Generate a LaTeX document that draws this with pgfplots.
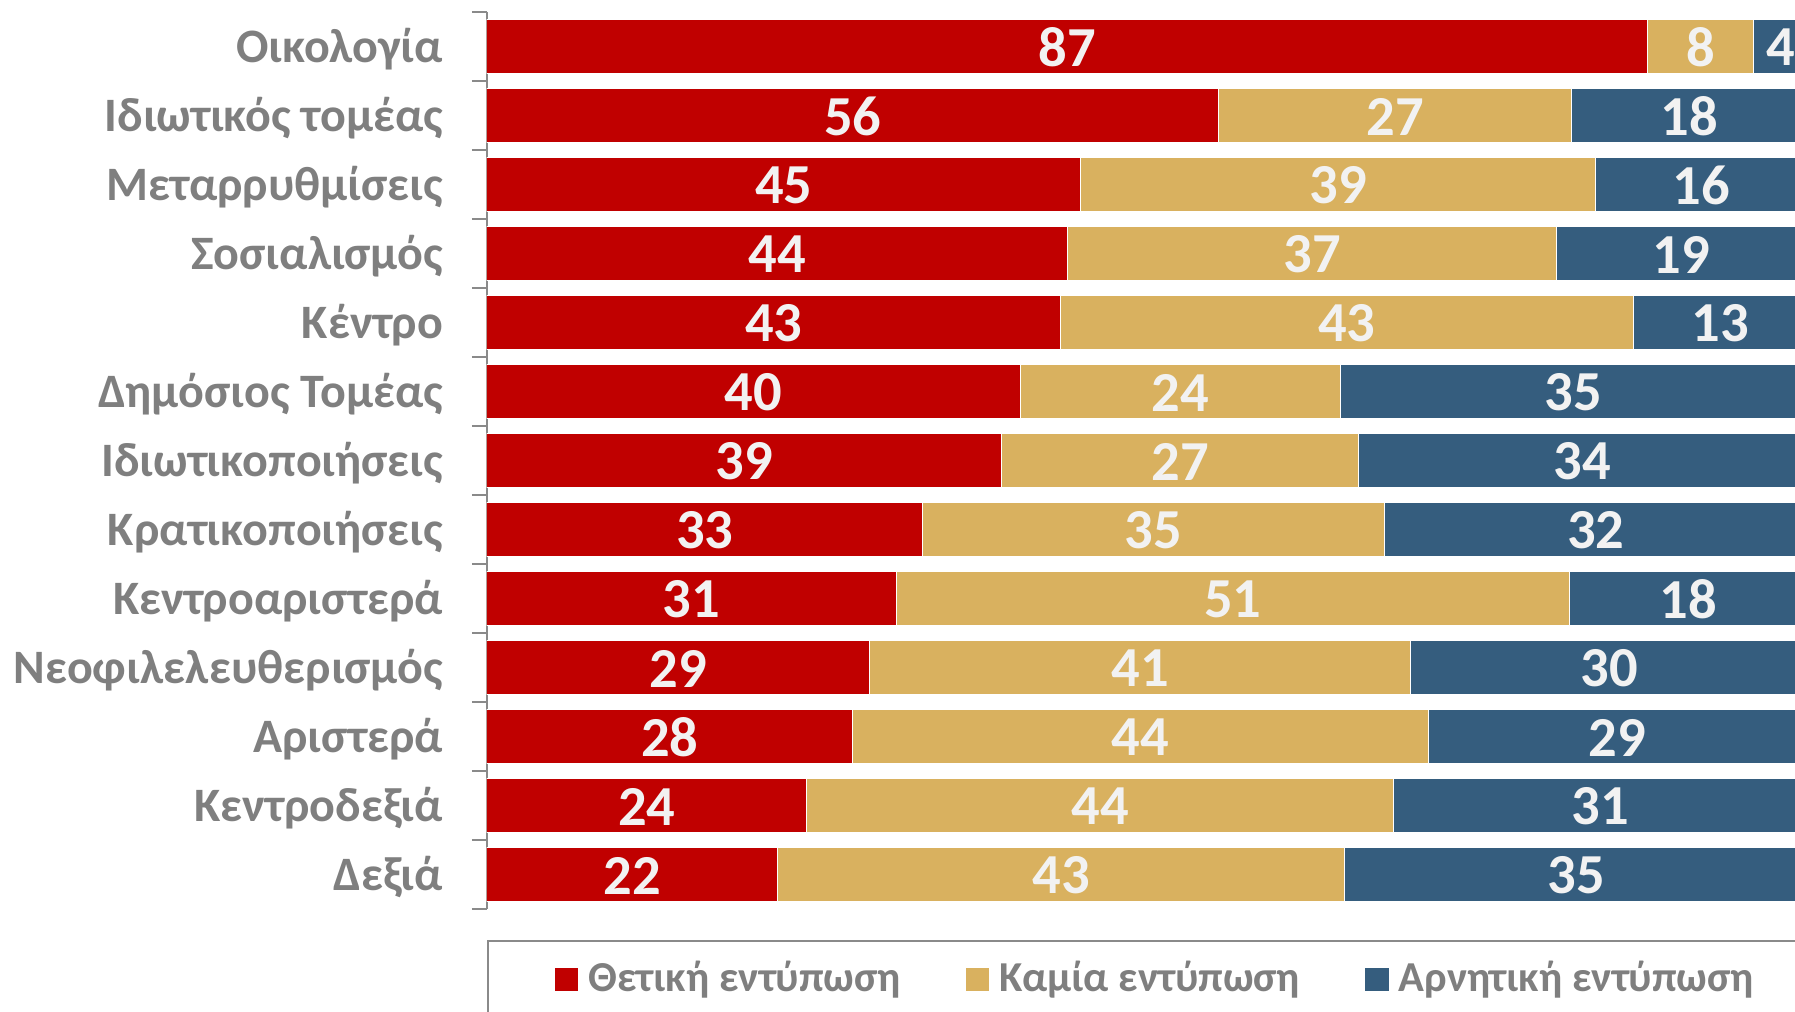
\documentclass[border=0pt]{standalone}
\usepackage{fontspec}
\setmainfont{Carlito}
\usepackage{pgfplots}
\usepackage{pgfplotstable}
\pgfplotsset{compat=1.18}
\definecolor{cred}{HTML}{C00000}
\definecolor{ctan}{HTML}{D9B15F}
\definecolor{cblue}{HTML}{355D7E}
\definecolor{cgray}{HTML}{7F7F7F}
\definecolor{cline}{HTML}{8A8A8A}
\definecolor{clbl}{HTML}{F2F2F2}
% r = red end, c = red+tan end, e = bar end (shares normalised to 100)
\pgfplotstableread{
idx r c e rl tl bl rm tm bm
0 87.88 95.96 100 87 8 4 43.94 91.92 97.98
1 55.45 82.18 100 56 27 18 27.72 68.81 91.09
2 45 84 100 45 39 16 22.5 64.5 92
3 44 81 100 44 37 19 22 62.5 90.5
4 43.43 86.87 100 43 43 13 21.72 65.15 93.43
5 40.40 64.65 100 40 24 35 20.20 52.53 82.32
6 39 66 100 39 27 34 19.5 52.5 83
7 33 68 100 33 35 32 16.5 50.5 84
8 31 82 100 31 51 18 15.5 56.5 91
9 29 70 100 29 41 30 14.5 49.5 85
10 27.72 71.29 100 28 44 29 13.86 49.50 85.64
11 24.24 68.69 100 24 44 31 12.12 46.46 84.34
12 22 65 100 22 43 35 11 43.5 82.5
}\data
\begin{document}
\begin{tikzpicture}
\begin{axis}[
  scale only axis, width=264pt, height=179.4pt,
  xmin=0, xmax=100, ymin=-0.5, ymax=12.5, y dir=reverse,
  axis x line=none, axis y line=left, axis line style={-, draw=cline, line width=0.4pt},
  xtick=\empty,
  ytick={0,...,12},
  yticklabels={Οικολογία, Ιδιωτικός τομέας, Μεταρρυθμίσεις, Σοσιαλισμός, Κέντρο, Δημόσιος Τομέας, Ιδιωτικοποιήσεις, Κρατικοποιήσεις, Κεντροαριστερά, Νεοφιλελευθερισμός, Αριστερά, Κεντροδεξιά, Δεξιά},
  minor ytick={-0.5,0.5,...,12.5},
  major tick length=0pt, minor tick length=3pt, tick align=outside,
  minor tick style={draw=cline, line width=0.4pt},
  yticklabel style={font=\fontsize{9.6}{12}\selectfont\bfseries, text=cgray, inner sep=0pt, xshift=-8.6pt,
    yshift=-0.45pt, text height=6.2pt, text depth=0.8pt},
  legend columns=-1,
  legend style={at={(rel axis cs:0,0)}, anchor=north west, xshift=10.4pt, yshift=-6.15pt, draw=none, fill=none,
    font=\fontsize{8.53}{10}\selectfont\bfseries, text=cgray,
    /tikz/every even column/.append style={column sep=11.05pt}},
  legend image code/.code={\fill[#1, draw=none] (0pt,-2.35pt) rectangle (4.7pt,2.35pt);},
  reverse legend,
]
\addplot[xbar, bar shift=0pt, bar width=10.7pt, fill=cblue, draw=white, line width=0.2pt] table[x=e, y=idx] {\data};
\addplot[xbar, bar shift=0pt, bar width=10.7pt, fill=ctan, draw=white, line width=0.2pt] table[x=c, y=idx] {\data};
\addplot[xbar, bar shift=0pt, bar width=10.7pt, fill=cred, draw=white, line width=0.2pt] table[x=r, y=idx] {\data};
\legend{Αρνητική εντύπωση, Καμία εντύπωση, Θετική εντύπωση}
\addplot[forget plot, only marks, mark=none, point meta=explicit symbolic, nodes near coords,
  nodes near coords style={anchor=center, yshift=-0.2pt, text=clbl, font=\fontsize{11.3}{14}\selectfont\bfseries}]
  table[x=rm, y=idx, meta=rl] {\data};
\addplot[forget plot, only marks, mark=none, point meta=explicit symbolic, nodes near coords,
  nodes near coords style={anchor=center, yshift=-0.2pt, text=clbl, font=\fontsize{11.3}{14}\selectfont\bfseries}]
  table[x=tm, y=idx, meta=tl] {\data};
\addplot[forget plot, only marks, mark=none, point meta=explicit symbolic, nodes near coords,
  nodes near coords style={anchor=center, yshift=-0.2pt, text=clbl, font=\fontsize{11.3}{14}\selectfont\bfseries}]
  table[x=bm, y=idx, meta=bl] {\data};
\end{axis}
\draw[cline, line width=0.4pt] (0.2pt,-40pt) -- (0.2pt,-6.4pt) -- (300pt,-6.4pt);
\pgfresetboundingbox
\useasboundingbox (-97.4pt,-20.6pt) rectangle (261.6pt,181.8pt);
\end{tikzpicture}
\end{document}
